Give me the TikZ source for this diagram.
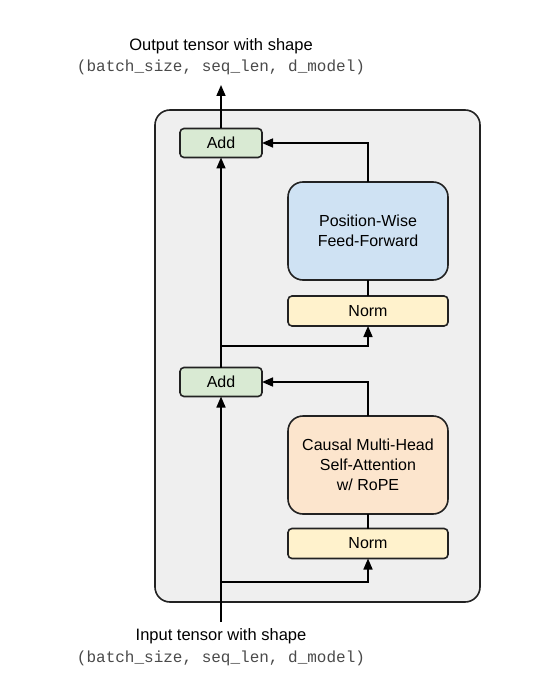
\documentclass[tikz,border=0pt]{standalone}
\usepackage{fontspec}
\setmainfont{Liberation Sans}
\newfontfamily\monofam{Liberation Mono}
\usetikzlibrary{arrows.meta}
\definecolor{outerfill}{HTML}{EFEFEF}
\definecolor{addfill}{HTML}{D9EAD3}
\definecolor{ffnfill}{HTML}{CFE2F3}
\definecolor{normfill}{HTML}{FFF2CC}
\definecolor{attfill}{HTML}{FCE5CD}
\definecolor{edgecol}{HTML}{222222}
\definecolor{monocol}{HTML}{4A4A4A}
\tikzset{
  every node/.style={inner sep=0pt, outer sep=0pt},
  boxbase/.style={draw=edgecol, line width=1.6pt, align=center, font=\fontsize{16}{20}\selectfont},
  addbox/.style={boxbase, fill=addfill, rounded corners=4pt, minimum width=82pt, minimum height=29pt},
  normbox/.style={boxbase, fill=normfill, rounded corners=4pt, minimum width=160pt, minimum height=30pt},
  bigbox/.style={boxbase, rounded corners=15pt, minimum width=160pt, minimum height=98pt},
  conn/.style={draw=black, line width=1.6pt},
  arr/.style={conn, -{Triangle[length=11pt,width=9pt]}},
  titletext/.style={font=\fontsize{16.5}{20}\selectfont},
  monotext/.style={font=\monofam\fontsize{16}{20}\selectfont, text=monocol},
}
\begin{document}
\begin{tikzpicture}[x=1pt,y=-1pt]
\useasboundingbox (0,0) rectangle (549,692);
\node[draw=edgecol, line width=1.6pt, fill=outerfill, rounded corners=15pt, minimum width=325pt, minimum height=492pt] (outer) at (317.5,356) {};
\node[addbox] (addT) at (221,143) {Add};
\node[addbox] (addB) at (221,382) {Add};
\node[bigbox, fill=ffnfill] (ffn) at (368,231) {Position-Wise\\Feed-Forward};
\node[normbox] (normT) at (368,311) {Norm};
\node[bigbox, fill=attfill] (att) at (368,465) {Causal Multi-Head\\Self-Attention\\w/ RoPE};
\node[normbox] (normB) at (368,543.5) {Norm};
\coordinate (in0) at (221,622);
\coordinate (br1) at (221,582);
\coordinate (br2) at (221,346);
\coordinate (outp) at (221,85);
\node[titletext] (outlab) at (221,46) {Output tensor with shape};
\node[monotext] (outmono) at (221,67) {(batch\_size, seq\_len, d\_model)};
\node[titletext] (inlab) at (221,636) {Input tensor with shape};
\node[monotext] (inmono) at (221,658) {(batch\_size, seq\_len, d\_model)};
% main path
\draw[arr] (in0) -- (addB.south);
\draw[arr] (addB.north) -- (addT.south);
\draw[arr] (addT.north) -- (outp);
% lower block
\draw[arr] (br1) -| (normB.south);
\draw[conn] (normB.north) -- (att.south);
\draw[arr] (att.north) |- (addB.east);
% upper block
\draw[arr] (br2) -| (normT.south);
\draw[conn] (normT.north) -- (ffn.south);
\draw[arr] (ffn.north) |- (addT.east);
\end{tikzpicture}
\end{document}
